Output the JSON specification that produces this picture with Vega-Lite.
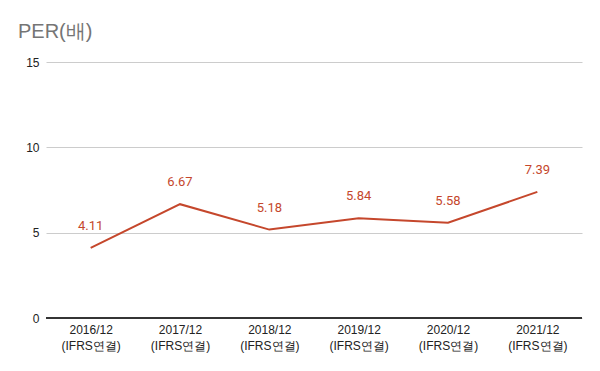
{
  "$schema": "https://vega.github.io/schema/vega-lite/v6.json",
  "autosize": "none",
  "width": 536,
  "height": 256,
  "padding": {"left": 46, "top": 62, "right": 18, "bottom": 53},
  "background": "white",
  "title": {
    "text": "PER(배)",
    "anchor": "start",
    "frame": "group",
    "dx": -28,
    "offset": 14,
    "font": "Liberation Sans",
    "fontSize": 20,
    "fontWeight": "normal",
    "color": "#757575"
  },
  "config": {"view": {"stroke": null}},
  "data": {
    "values": [
      {"period": "2016/12 (IFRS연결)", "per": 4.11},
      {"period": "2017/12 (IFRS연결)", "per": 6.67},
      {"period": "2018/12 (IFRS연결)", "per": 5.18},
      {"period": "2019/12 (IFRS연결)", "per": 5.84},
      {"period": "2020/12 (IFRS연결)", "per": 5.58},
      {"period": "2021/12 (IFRS연결)", "per": 7.39}
    ]
  },
  "encoding": {
    "x": {
      "field": "period",
      "type": "ordinal",
      "sort": null,
      "title": null,
      "scale": {"type": "point", "padding": 0.5},
      "axis": {
        "labelExpr": "split(datum.label, ' ')",
        "labelAngle": 0,
        "labelFont": "Liberation Sans",
        "labelFontSize": 12,
        "labelColor": "#222222",
        "labelLineHeight": 16,
        "labelPadding": 6,
        "ticks": false,
        "domain": false,
        "grid": false
      }
    },
    "y": {
      "field": "per",
      "type": "quantitative",
      "title": null,
      "scale": {"domain": [0, 15], "nice": false},
      "axis": {
        "values": [0, 5, 10, 15],
        "labelFont": "Liberation Sans",
        "labelFontSize": 12,
        "labelColor": "#222222",
        "labelPadding": 7,
        "ticks": false,
        "domain": false,
        "gridColor": "#cccccc",
        "gridWidth": 1
      }
    }
  },
  "layer": [
    {
      "mark": {"type": "rule", "color": "#333333", "strokeWidth": 1},
      "encoding": {"y": {"datum": 0}, "x": {"value": 0}, "x2": {"value": 536}}
    },
    {
      "mark": {"type": "line", "color": "#c5472c", "strokeWidth": 2}
    },
    {
      "mark": {
        "type": "text",
        "color": "#c5472c",
        "dy": -22,
        "font": "Roboto",
        "fontSize": 13
      },
      "encoding": {"text": {"field": "per", "type": "quantitative", "format": ".2f"}}
    }
  ]
}
